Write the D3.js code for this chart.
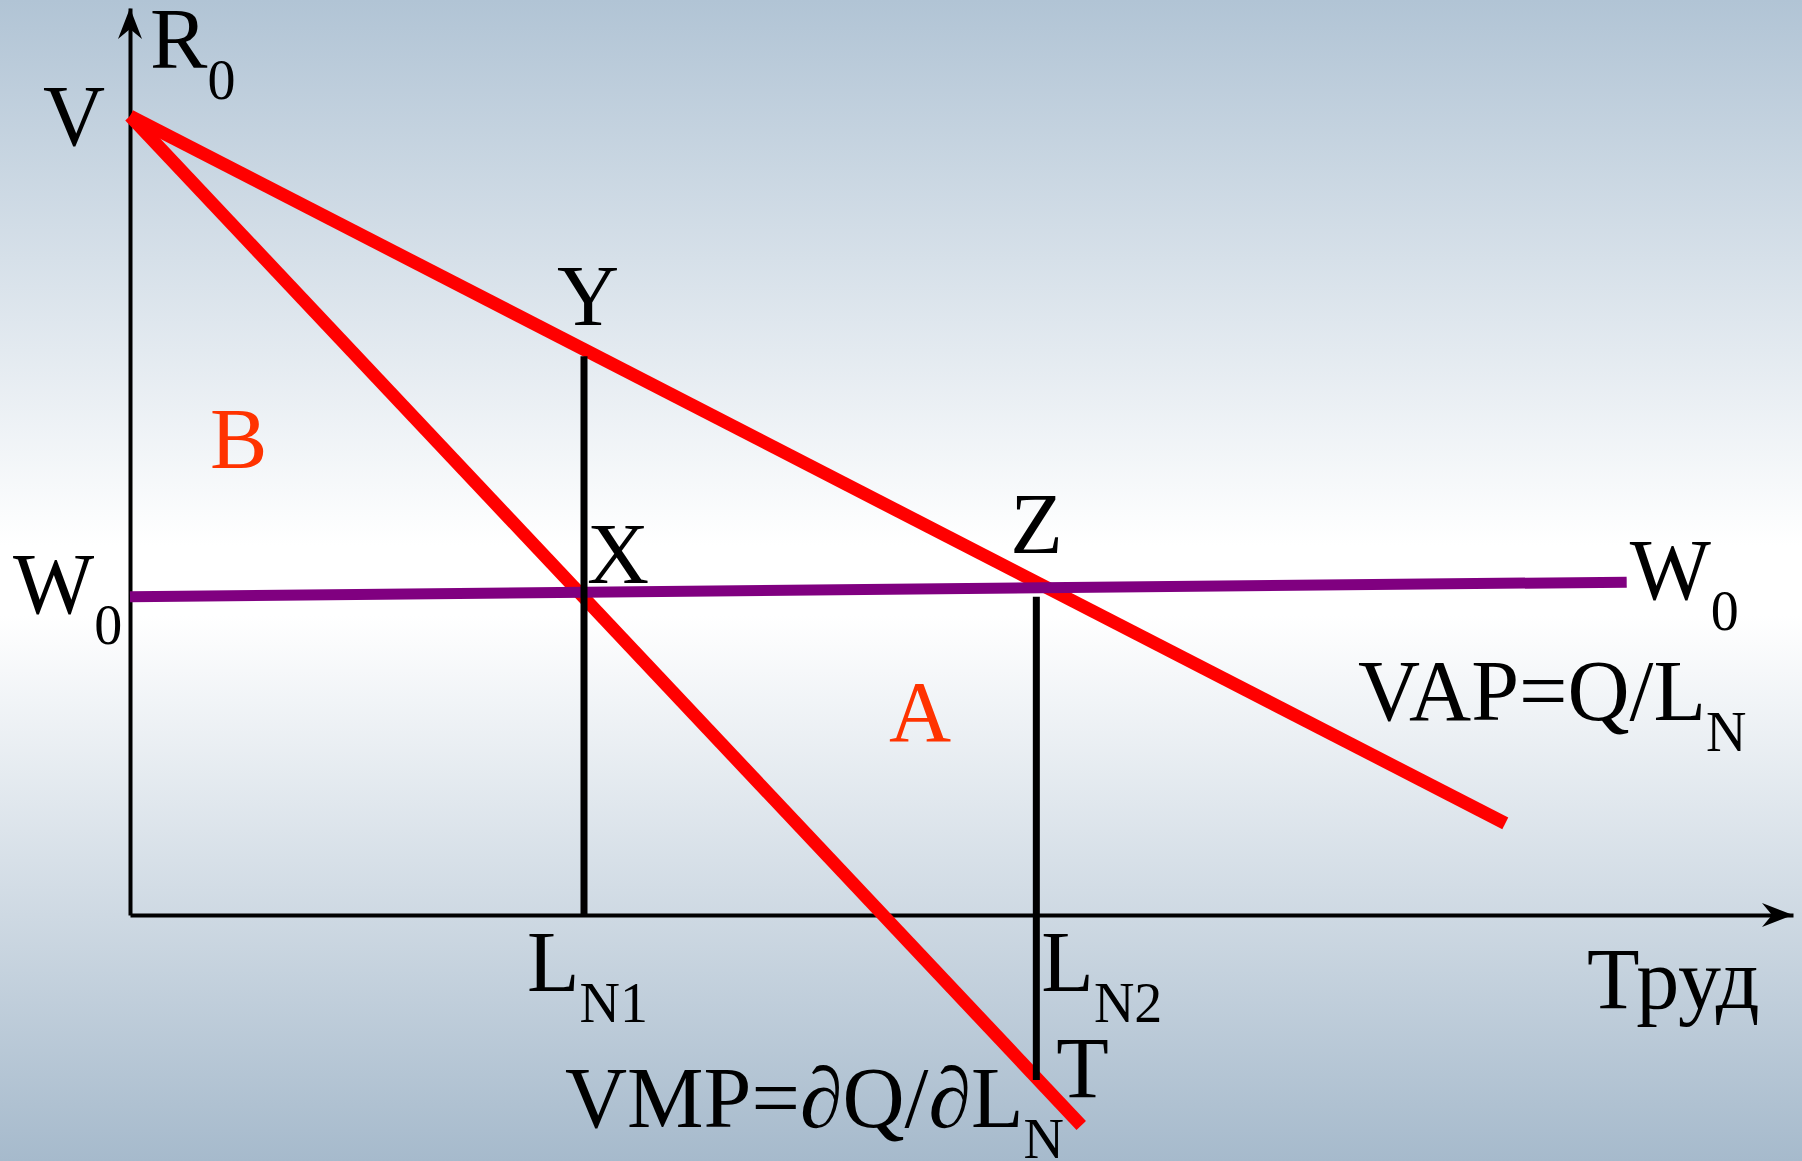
<!DOCTYPE html>
<html>
<head>
<meta charset="utf-8">
<script src="https://cdn.jsdelivr.net/npm/d3@7"></script>
<style>
  body { margin: 0; padding: 0; overflow: hidden; }
  svg text { font-family: "Liberation Serif", "Times New Roman", serif; }
</style>
</head>
<body>
<svg id="chart" width="1802" height="1161"></svg>
<script>
    // Labour market diagram: VAP and VMP curves against the wage W0

    // curves, in chart units (x = labour, y = revenue per worker)
    const vapLine = [[0, 88.1], [82.7, 10.1]];
    const vmpLine = [[0, 88.1], [57.2, -23.2]];
    const wageLine = [[0, 35.1], [90.0, 36.7]];

    // employment levels and the vertical drop lines
    const labourLevels = ["N1", "N2"];
    const labourValues = [27.3, 54.5];
    const dropTop = [61.6, 35.1];
    const dropBottom = [0, -18.2];

    // point and area labels
    const pointNames = ["V", "Y", "X", "Z", "T"];
    const areaNames = ["A", "B"];
    const axisNames = ["R", "Труд"];

    let svg = d3.select("svg#chart");
    let width = +svg.attr("width");
    let height = +svg.attr("height");

    // background: bluish top and bottom, white band in the middle
    let defs = svg.append("defs");
    let grad = defs.append("linearGradient").attr("id", "bg")
        .attr("x1", 0).attr("y1", 0).attr("x2", 0).attr("y2", 1);
    grad.append("stop").attr("offset", "0").attr("stop-color", "#b1c4d5");
    grad.append("stop").attr("offset", "0.47").attr("stop-color", "#ffffff");
    grad.append("stop").attr("offset", "0.53").attr("stop-color", "#ffffff");
    grad.append("stop").attr("offset", "1").attr("stop-color", "#a6bacc");
    svg.append("rect").attr("width", width).attr("height", height).attr("fill", "url(#bg)");

    // scales -- x 0..100 runs to the arrow tip, same for y
    const x = d3.scaleLinear().domain([0, 100]).range([130, 1793]);
    const y = d3.scaleLinear().domain([0, 100]).range([915, 8]);

    // axes (domain line only)
    svg.append("g").attr("class", "x axis")
        .attr("transform", "translate(0," + y(0) + ")")
        .call(d3.axisBottom(x).ticks(0).tickSizeOuter(0))
        .call(g => g.select(".domain").attr("stroke", "#000").attr("stroke-width", 4));
    svg.append("g").attr("class", "y axis")
        .attr("transform", "translate(" + x(0) + ",0)")
        .call(d3.axisLeft(y).ticks(0).tickSizeOuter(0))
        .call(g => g.select(".domain").attr("stroke", "#000").attr("stroke-width", 4));

    // arrow heads
    let ax = x(100), ay = y(0);
    svg.append("path")
        .attr("d", `M${ax},${ay} L${ax - 31},${ay - 12} L${ax - 21},${ay} L${ax - 31},${ay + 12} Z`)
        .attr("fill", "#000");
    let bx = x(0), by = y(100);
    svg.append("path")
        .attr("d", `M${bx},${by} L${bx + 12},${by + 31} L${bx},${by + 21} L${bx - 12},${by + 31} Z`)
        .attr("fill", "#000");

    let line = d3.line().x(d => x(d[0])).y(d => y(d[1]));

    // red curves
    [vapLine, vmpLine].forEach(pts => {
      svg.append("path").attr("d", line(pts))
        .attr("fill", "none").attr("stroke", "#ff0000").attr("stroke-width", 13);
    });

    // wage line
    svg.append("path").attr("d", line(wageLine))
      .attr("fill", "none").attr("stroke", "#800080").attr("stroke-width", 11);

    // drop lines
    labourValues.forEach((v, i) => {
      svg.append("line")
        .attr("x1", x(v)).attr("x2", x(v))
        .attr("y1", y(dropBottom[i])).attr("y2", y(dropTop[i]))
        .attr("stroke", "#000").attr("stroke-width", 7);
    });

    // text helper: main text plus optional subscript
    const big = 86, small = 56;
    function label(px, py, main, sub, color) {
      let t = svg.append("text").attr("x", px).attr("y", py)
        .attr("font-size", big).attr("fill", color || "#000");
      t.append("tspan").text(main);
      if (sub) t.append("tspan").attr("font-size", small).attr("dy", 31).text(sub);
      return t;
    }

    // axis labels
    label(x(0) + 20, 68, axisNames[0], "0");
    label(1587, 1008, axisNames[1]);

    // points
    label(43, 145, pointNames[0]);
    label(x(labourValues[0]) - 27, 325, pointNames[1]);
    label(x(labourValues[0]) + 3, 583, pointNames[2]);
    label(x(labourValues[1]) - 26, 553, pointNames[3]);
    label(x(labourValues[1]) + 20, 1097, pointNames[4]);

    // areas
    label(889, 741, areaNames[0], null, "#ff3300");
    label(210, 468, areaNames[1], null, "#ff3300");

    // wage labels
    label(13, 613, "W", "0");
    label(x(wageLine[1][0]) + 3, 599, "W", "0");

    // labour levels on the x axis
    label(x(labourValues[0]) - 57, 991, "L", labourLevels[0]);
    label(x(labourValues[1]) + 5, 991, "L", labourLevels[1]);

    // curve names
    label(1358, 720, "VAP=Q/L", "N");
    label(565, 1127, "VMP=∂Q/∂L", "N");
</script>
</body>
</html>
